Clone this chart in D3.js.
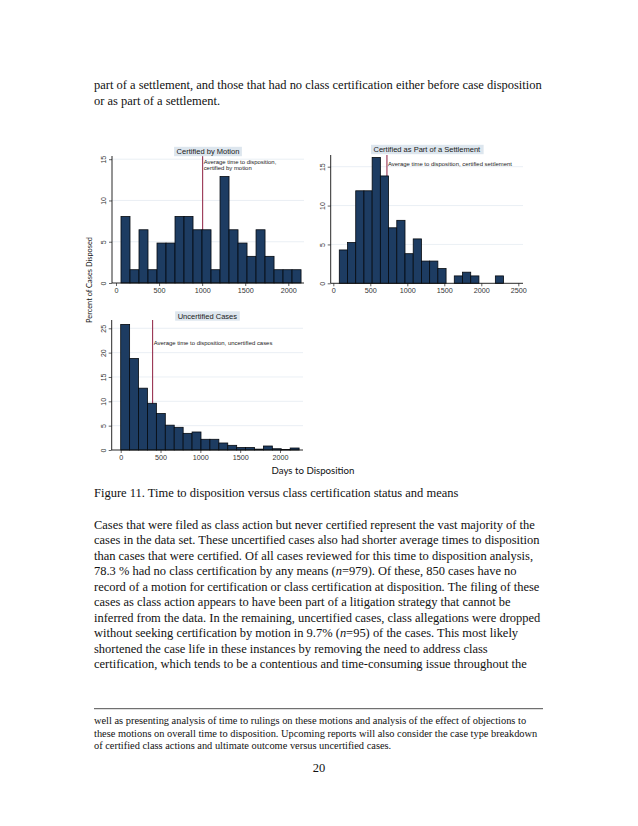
<!DOCTYPE html>
<html><head><meta charset="utf-8">
<script src="https://cdn.jsdelivr.net/npm/d3@7"></script>
<style>body{margin:0;background:#fff} svg{display:block}</style>
</head><body>
<script>
// ---- data ----
const motionTitle = "Certified by Motion";
const motionPct = [8.06,1.61,6.45,1.61,4.84,4.84,8.06,8.06,6.45,6.45,1.61,12.9,6.45,4.84,3.23,6.45,3.23,1.61,1.61,1.61];
const motionBinStart = 58, motionBinWidth = 104.5, motionMean = 1006;
const motionNote = ["Average time to disposition,", "certified by motion"];
const motionXTicks = [0,500,1000,1500,2000];
const motionYTicks = [0,5,10,15];

const settleTitle = "Certified as Part of a Settlement";
const settlePct = [4.29,5.24,11.9,11.9,16.19,13.81,7.14,8.1,3.81,5.71,2.86,2.86,1.9,0,0.95,1.43,0.95,0,0,0.95];
const settleBinStart = 81, settleBinWidth = 111, settleMean = 725;
const settleNote = ["Average time to disposition, certified settlement"];
const settleXTicks = [0,500,1000,1500,2000,2500];
const settleYTicks = [0,5,10,15];

const uncertTitle = "Uncertified Cases";
const uncertPct = [25.8,18.8,12.7,9.6,7.5,5.1,4.66,3.42,3.7,2.2,2.2,1.44,0.96,0.51,0.51,0.18,0.82,0.26,0.1,0.41];
const uncertBinStart = 0, uncertBinWidth = 112, uncertMean = 401;
const uncertNote = ["Average time to disposition, uncertified cases"];
const uncertXTicks = [0,500,1000,1500,2000];
const uncertYTicks = [0,5,10,15,20,25];

const yAxisLabel = "Percent of Cases Disposed";
const xAxisLabel = "Days to Disposition";

const topLines = ["part of a settlement, and those that had no class certification either before case disposition",
  "or as part of a settlement."];
const captionText = "Figure 11. Time to disposition versus class certification status and means";
const bodyLines = [
  "Cases that were filed as class action but never certified represent the vast majority of the",
  "cases in the data set. These uncertified cases also had shorter average times to disposition",
  "than cases that were certified. Of all cases reviewed for this time to disposition analysis,",
  "78.3 % had no class certification by any means (*n*=979). Of these, 850 cases have no",
  "record of a motion for certification or class certification at disposition. The filing of these",
  "cases as class action appears to have been part of a litigation strategy that cannot be",
  "inferred from the data. In the remaining, uncertified cases, class allegations were dropped",
  "without seeking certification by motion in 9.7% (*n*=95) of the cases. This most likely",
  "shortened the case life in these instances by removing the need to address class",
  "certification, which tends to be a contentious and time-consuming issue throughout the"];
const footLines = [
  "well as presenting analysis of time to rulings on these motions and analysis of the effect of objections to",
  "these motions on overall time to disposition. Upcoming reports will also consider the case type breakdown",
  "of certified class actions and ultimate outcome versus uncertified cases."];
const pageNumber = "20";

// ---- drawing ----
const W = 638, H = 826;
const svg = d3.select("body").append("svg").attr("width", W).attr("height", H);
const SERIF = "'Liberation Serif','Times New Roman',serif";
const SANS = "'Liberation Sans',Arial,sans-serif";
const HUMAN = "Lato,'Open Sans',sans-serif";

function addText(sel, str) {
  const parts = str.split("*");
  parts.forEach((p, i) => {
    if (!p) return;
    sel.append("tspan").text(p).attr("font-style", i % 2 ? "italic" : null);
  });
}
function measure(str, family) {
  const t = svg.append("text").attr("font-family", family).attr("font-size", 20);
  addText(t, str);
  const w = t.node().getComputedTextLength();
  t.remove();
  return w / 20;
}
function block(lines, x, y0, dy, family, targetW) {
  const fs = targetW / measure(lines[0], family);
  lines.forEach((l, i) => {
    const t = svg.append("text").attr("x", x).attr("y", y0 + i * dy)
      .attr("font-family", family).attr("font-size", fs).attr("fill", "#111");
    addText(t, l);
  });
  return fs;
}

block(topLines, 94, 88.5, 16.8, SERIF, 448);
block([captionText], 94, 497, 0, SERIF, 365);
const bodyFs = block(bodyLines, 94, 528.5, 15.55, SERIF, 441);
svg.append("line").attr("x1", 94).attr("x2", 543).attr("y1", 708.7).attr("y2", 708.7)
  .attr("stroke", "#222").attr("stroke-width", 0.8);
block(footLines, 94, 724.3, 12.3, SERIF, 432.7);
svg.append("text").attr("x", 319).attr("y", 771.5).attr("text-anchor", "middle")
  .attr("font-family", SERIF).attr("font-size", bodyFs).attr("fill", "#111").text(pageNumber);

const noteFs = 119 / measure(uncertNote[0], SANS);
const titleFs = 107 / measure(settleTitle, SANS);

function panel(c) {
  const g = svg.append("g");
  const x = d3.scaleLinear().domain([0, c.xTicks[c.xTicks.length - 1]]).range(c.xRange);
  const y = d3.scaleLinear().domain([0, c.yTicks[c.yTicks.length - 1]]).range(c.yRange);
  // gridlines
  g.selectAll("line.grid").data(c.yTicks.filter(d => d > 0)).join("line")
    .attr("x1", c.left).attr("x2", c.right).attr("y1", d => y(d)).attr("y2", d => y(d))
    .attr("stroke", "#e4ebf1").attr("stroke-width", 0.8);
  // mean line
  g.append("line").attr("x1", x(c.mean)).attr("x2", x(c.mean)).attr("y1", c.top).attr("y2", y(0))
    .attr("stroke", "#8e1f41").attr("stroke-width", 1);
  // bars
  const bins = c.values.map((v, i) => ({v, x0: c.start + i * c.width, x1: c.start + (i + 1) * c.width}))
    .filter(d => d.v > 0);
  g.selectAll("rect.bar").data(bins).join("rect")
    .attr("x", d => x(d.x0)).attr("width", d => x(d.x1) - x(d.x0))
    .attr("y", d => y(d.v)).attr("height", d => y(0) - y(d.v))
    .attr("fill", "#1d3c62").attr("stroke", "#050a10").attr("stroke-width", 0.8);
  // annotation
  c.note.forEach((s, i) => {
    g.append("text").attr("x", x(c.mean) + 1).attr("y", c.noteY + i * 5.6)
      .attr("font-family", SANS).attr("font-size", noteFs).attr("fill", "#222").text(s);
  });
  // y axis
  const ya = g.append("g").attr("transform", `translate(${c.left},0)`)
    .call(d3.axisLeft(y).tickValues(c.yTicks).tickFormat(d3.format("d")).tickSize(3).tickSizeOuter(0).tickPadding(5));
  ya.select(".domain").remove();
  ya.selectAll("line").attr("stroke", "#222").attr("stroke-width", 0.7);
  ya.selectAll("text").attr("transform", "rotate(-90)").attr("x", 0).attr("y", -6).attr("dy", 0)
    .attr("text-anchor", "middle").attr("font-family", SANS).attr("font-size", 7).attr("fill", "#333");
  g.append("line").attr("x1", c.left).attr("x2", c.left).attr("y1", c.top).attr("y2", y(0))
    .attr("stroke", "#111").attr("stroke-width", 0.9);
  // x axis
  const xa = g.append("g").attr("transform", `translate(0,${y(0)})`)
    .call(d3.axisBottom(x).tickValues(c.xTicks).tickFormat(d3.format("d")).tickSize(3).tickSizeOuter(0).tickPadding(2));
  xa.select(".domain").remove();
  xa.selectAll("line").attr("stroke", "#222").attr("stroke-width", 0.7);
  xa.selectAll("text").attr("font-family", SANS).attr("font-size", 7.2).attr("fill", "#333");
  g.append("line").attr("x1", c.left).attr("x2", c.right).attr("y1", y(0)).attr("y2", y(0))
    .attr("stroke", "#111").attr("stroke-width", 0.9);
  // title box
  const cx = (c.left + c.right) / 2;
  const tb = g.append("g");
  const rect = tb.append("rect");
  const tt = tb.append("text").attr("x", cx).attr("y", c.titleY + 2.8).attr("text-anchor", "middle")
    .attr("font-family", SANS).attr("font-size", titleFs).attr("fill", "#1a1a1a").text(c.title);
  const bb = tt.node().getBBox();
  rect.attr("x", bb.x - 2.5).attr("y", c.titleY - 4.7)
    .attr("width", bb.width + 5).attr("height", 9.4).attr("fill", "#dde6ee");
}

panel({title: motionTitle, values: motionPct, start: motionBinStart, width: motionBinWidth, mean: motionMean,
  note: motionNote, noteY: 164, xTicks: motionXTicks, yTicks: motionYTicks,
  xRange: [116, 288.3], yRange: [283, 159.2], left: 112, right: 304, top: 156, titleY: 151.5});
panel({title: settleTitle, values: settlePct, start: settleBinStart, width: settleBinWidth, mean: settleMean,
  note: settleNote, noteY: 166, xTicks: settleXTicks, yTicks: settleYTicks,
  xRange: [333.3, 518.3], yRange: [283.3, 166.7], left: 330.7, right: 523, top: 155, titleY: 149.5});
panel({title: uncertTitle, values: uncertPct, start: uncertBinStart, width: uncertBinWidth, mean: uncertMean,
  note: uncertNote, noteY: 344.8, xTicks: uncertXTicks, yTicks: uncertYTicks,
  xRange: [120.7, 280], yRange: [450, 328.3], left: 111.7, right: 303, top: 320, titleY: 316});

// axis titles
const yl = svg.append("text").attr("transform", "translate(92,280) rotate(-90)").attr("text-anchor", "middle")
  .attr("font-family", HUMAN).attr("fill", "#111").attr("font-size", 10).text(yAxisLabel);
yl.attr("font-size", 10 * 86 / yl.node().getComputedTextLength());
const xl = svg.append("text").attr("x", 313).attr("y", 473.5).attr("text-anchor", "middle")
  .attr("font-family", HUMAN).attr("fill", "#111").attr("font-size", 10).text(xAxisLabel);
xl.attr("font-size", 10 * 83 / xl.node().getComputedTextLength());
</script>
</body></html>
